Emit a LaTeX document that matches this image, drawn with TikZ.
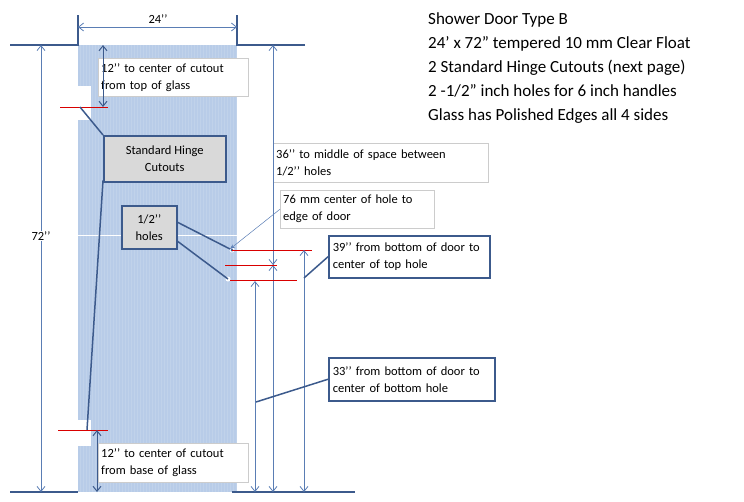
\documentclass[tikz,border=0pt]{standalone}
\usepackage{fontspec}
\setmainfont{Carlito}
\usetikzlibrary{arrows.meta}
\definecolor{glass}{RGB}{184,204,232}
\definecolor{dk}{RGB}{60,90,140}
\definecolor{md}{RGB}{90,125,180}
\definecolor{bx}{RGB}{217,217,217}
\begin{document}
\begin{tikzpicture}[x=1pt,y=-1pt,
 dim/.style={md,line width=0.8pt},
 dimarr/.style={dim,{Straight Barb[length=5pt,width=8pt]}-{Straight Barb[length=5pt,width=8pt]}},
 edge/.style={dk,line width=1.5pt},
 redl/.style={red!85!black,line width=0.8pt},
 lbl/.style={draw=black!20,fill=white,font=\fontsize{12.5}{17}\selectfont,align=left,anchor=north west,inner sep=3pt,text width=#1},
 callout/.style={draw=dk,line width=1.5pt,fill=white,font=\fontsize{12.5}{17}\selectfont,align=left,anchor=north west,inner sep=4pt,text width=#1},
 gbox/.style={draw=dk,line width=1.5pt,fill=bx,font=\fontsize{12.5}{17}\selectfont,align=center},
 lead/.style={dk,line width=1.5pt}]
\useasboundingbox (0,0) rectangle (744,501);
% glass
\fill[glass] (78,45) rectangle (237,492);
\foreach \x in {80,83,...,236} \draw[white,opacity=0.12,line width=0.3pt] (\x,45) -- (\x,492);
\fill[white] (78,86) rectangle (91,120);
\fill[white] (78,420) rectangle (91,446);
\draw[white,line width=0.3pt] (78,235) -- (237,235);
% edges
\draw[edge] (10,45) -- (78,45) -- (78,15);
\draw[edge] (305,45) -- (237,45) -- (237,15);
\draw[edge] (10,492) -- (78,492);
\draw[edge] (232,492) -- (355,492);
\draw[dimarr] (78,27) -- (237,27);
\node at (158,19) {\fontsize{12.5}{14}\selectfont 24’’};
\draw[dimarr] (41,45) -- (41,492);
\node[fill=white,inner sep=1pt] at (41,236) {\fontsize{12.5}{14}\selectfont 72’’};
% 12'' top
\node[lbl=144pt,minimum height=38pt] (t12) at (98,58) {12’’ to center of cutout\\from top of glass};
\draw[dimarr,dk,line width=1pt] (103,45) -- (103,107);
\draw[redl] (60,107) -- (108,107);
% hinge
\node[gbox,minimum width=122pt,minimum height=46pt,anchor=north west] (hinge) at (103,135) {Standard Hinge\\Cutouts};
\coordinate (n1) at (80,107);
\coordinate (n2) at (87,430);
\draw[lead] (hinge.north west) -- (n1);
\draw[lead] ([yshift=2pt]hinge.south west) -- (n2);
% bottom 12''
\node[lbl=144pt,minimum height=39pt] (b12) at (98,443) {12’’ to center of cutout\\from base of glass};
\draw[redl] (58,430) -- (108,430);
\draw[dimarr,dk,line width=1pt] (97,430) -- (97,492);
% holes
\node[gbox,minimum width=55pt,minimum height=43pt,anchor=north west] (holes) at (121,205) {1/2’’\\holes};
\fill[white] (232,250) circle (2.5pt);
\fill[dk] (232,250) circle (1.5pt);
\fill[white] (228,279) circle (2.5pt);
\coordinate (h1) at (230,249);
\coordinate (h2) at (228,279);
\draw[lead] ([yshift=5pt]holes.east) -- (h1);
\draw[lead] ([yshift=-14pt]holes.east) -- (h2);
% 36''
\node[lbl=209pt,minimum height=39pt] (l36) at (273,143) {36’’ to middle of space between\\1/2’’ holes};
\draw[dim,-{Straight Barb[length=5pt,width=8pt]}] (273,265) -- (273,45);
\draw[dim,-{Straight Barb[length=5pt,width=8pt]}] (273,92) -- (273,265);
\draw[dimarr] (273,265) -- (273,492);
% 76mm
\node[lbl=148pt,minimum height=38pt] (l76) at (280,190) {76 mm center of hole to\\edge of door};
\draw[md,line width=0.5pt,-{Stealth[length=5pt]}] (l76.west) -- (h1);
% red lines
\draw[redl] (232,250) -- (312,250);
\draw[redl] (225,265) -- (277,265);
\draw[redl] (230,280) -- (297,280);
% 39''
\draw[dimarr] (304,250) -- (304,492);
\node[callout=153pt,minimum height=42pt] (l39) at (328,235) {39’’ from bottom of door to\\center of  top hole};
\coordinate (c39) at (304,278);
\draw[lead] (l39.west) -- (c39);
% 33''
\draw[dimarr] (255,281) -- (255,492);
\node[callout=158pt,minimum height=43pt] (l33) at (328,357) {33’’ from bottom of door to\\center of bottom hole};
\coordinate (c33) at (256,402);
\draw[lead] (l33.west) -- (c33);
% title
\node[anchor=north west,align=left,inner sep=0pt,font=\fontsize{17}{24}\selectfont] (title) at (428,12) {Shower Door Type B\\24’ x 72” tempered 10 mm Clear Float\\2 Standard Hinge Cutouts (next page)\\2 -1/2” inch holes for 6 inch handles\\Glass has Polished Edges all 4 sides};
\end{tikzpicture}
\end{document}
